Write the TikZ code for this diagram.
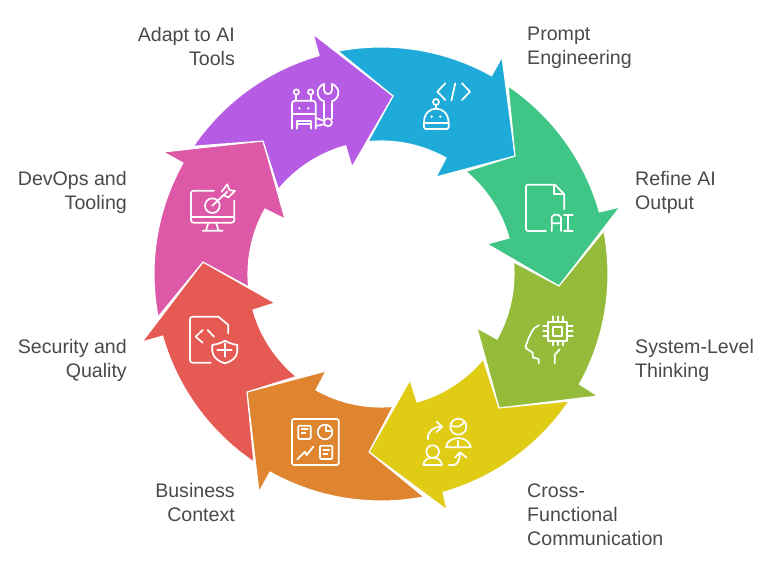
\documentclass[tikz,border=0pt]{standalone}
\usepackage{fontspec}
\setmainfont{Liberation Sans}
\definecolor{cblue}{HTML}{1FABD9}
\definecolor{cpurple}{HTML}{B65CE4}
\definecolor{cpink}{HTML}{DD58A7}
\definecolor{cred}{HTML}{E65A54}
\definecolor{corange}{HTML}{DF842F}
\definecolor{cyellow}{HTML}{E0CC15}
\definecolor{colive}{HTML}{94BC3A}
\definecolor{cgreen}{HTML}{3FC585}
\definecolor{ctext}{HTML}{4A4A4A}
\tikzset{
  seg/.style={draw=white,line width=1.1pt,line join=miter,miter limit=10},
  ico/.style={draw=white,line width=1.7pt,line cap=round,line join=round},
  lab/.style={inner sep=0pt,text=ctext,font=\fontsize{19.6}{24}\selectfont},
  labl/.style={lab,anchor=west,align=left},
  labr/.style={lab,anchor=east,align=right}
}
\def\getang(#1,#2)#3{\pgfmathsetmacro#3{atan2(#2-274,#1-381)}}
% colour, outer start, outer notch, barb, tip, barb, inner notch, inner start, previous tip
\newcommand\spoke[9]{%
  \getang#2\aA \getang#3\aB \getang#8\aC \getang#7\aD
  \pgfmathsetmacro\aB{\aB<\aA?\aB+360:\aB}%
  \pgfmathsetmacro\aD{\aD<\aC?\aD+360:\aD}%
  \path[seg,fill=#1] plot[smooth,domain=\aA:\aB,samples=40] ({381+227*cos(\x)},{274+227*sin(\x)})
    -- #4 -- #5 -- #6
    -- plot[smooth,domain=\aD:\aC,samples=40] ({381+133*cos(\x)},{274+133*sin(\x)})
    -- #9 -- cycle;
}
\begin{document}
\begin{tikzpicture}[x=1pt,y=-1pt]
\useasboundingbox (0,0) rectangle (769,569);
\fill[white] (0,0) rectangle (769,569);
\spoke{cblue}{(338,51)}{(492,75)}{(502,57)}{(515,156)}{(436,177)}{(446,158)}{(368,141)}{(393,96)}
\spoke{cgreen}{(508,86)}{(599,212)}{(620,207)}{(559,286)}{(487,244)}{(509,238)}{(466,171)}{(515,156)}
\spoke{colive}{(603,231)}{(579,384)}{(598,396)}{(499,408)}{(477,328)}{(497,339)}{(513,262)}{(559,286)}
\spoke{cyellow}{(569,401)}{(443,492)}{(447,510)}{(369,452)}{(410,380)}{(417,402)}{(483,359)}{(499,408)}
\spoke{corange}{(424,497)}{(270,472)}{(259,492)}{(247,392)}{(326,371)}{(316,390)}{(393,407)}{(369,452)}
\spoke{cred}{(254,462)}{(163,336)}{(142,342)}{(203,262)}{(275,303)}{(253,310)}{(296,377)}{(247,392)}
\spoke{cpink}{(158,317)}{(183,163)}{(163,152)}{(263,141)}{(285,219)}{(265,209)}{(248,287)}{(203,262)}
\spoke{cpurple}{(193,146)}{(319,55)}{(313,34)}{(393,96)}{(352,167)}{(346,147)}{(278,189)}{(263,141)}

% blue icon
\begin{scope}[shift={(260,30)},scale=1/3]
\draw[ico] (556,160)--(532,185)--(556,210);
\draw[ico] (586,160)--(574,212);
\draw[ico] (606,160)--(630,185)--(606,210);
\draw[ico] (528,216) circle[radius=9];
\draw[ico] (528,225)--(528,236);
\draw[ico] (492,282) .. controls (492,250) and (510,236) .. (528,236) .. controls (548,236) and (566,250) .. (566,282) [rounded corners=1.5pt]-- (566,297) -- (492,297) -- cycle;
\draw[ico] (492,280)--(566,280);
\fill[white] (515,260) circle[radius=4] (541,260) circle[radius=4];
% purple icon
\draw[ico] (109,186) circle[radius=8] (152,186) circle[radius=8];
\draw[ico] (109,194)--(109,212) (152,194)--(152,212);
\draw[ico,rounded corners=3pt] (96,296)--(96,212)--(167,212)--(167,296);
\fill[white] (118,235) circle[radius=4] (145,235) circle[radius=4];
\draw[ico] (96,253)--(167,253);
\draw[ico] (112,296)--(112,272)--(152,272)--(152,296) (112,282)--(152,282);
\draw[ico] (192,162)--(192,180) .. controls (192,196) and (216,196) .. (216,180) -- (216,162);
\draw[ico] (192,162) .. controls (165,172) and (168,206) .. (192,214) (216,162) .. controls (243,172) and (240,206) .. (216,214);
\draw[ico] (192,214)--(192,266) (216,214)--(216,266);
\draw[ico] (204,277) circle[radius=12];
\draw[ico] (167,264)--(192,272) (167,288)--(192,283);
\end{scope}

% green and olive icons
\begin{scope}[shift={(460,160)},scale=1/3]
\draw[ico,rounded corners=2pt] (258,213)--(198,213)--(198,74)--(285,74);
\draw[ico] (285,74)--(313,103)--(313,148);
\draw[ico] (283,76)--(283,103)--(311,103);
\draw[ico] (275,213)--(275,172)--(283,164)--(295,164)--(303,172)--(303,213) (275,190)--(303,190);
\draw[ico] (312,164)--(338,164) (325,164)--(325,213) (312,213)--(338,213);
% olive
\draw[ico] (265,485) rectangle (322,542);
\draw[ico] (280,500) rectangle (307,527);
\draw[ico] (279,469)--(279,485) (293,469)--(293,485) (308,469)--(308,485);
\draw[ico] (279,542)--(279,556) (293,542)--(293,556) (308,542)--(308,556);
\draw[ico] (250,499)--(265,499) (250,513)--(265,513) (250,528)--(265,528);
\draw[ico] (322,499)--(338,499) (322,513)--(338,513) (322,528)--(338,528);
\draw[ico] (237,496) .. controls (218,500) and (210,525) .. (198,555) -- (198,565) -- (218,578) -- (218,592) -- (236,597) -- (236,610);
\draw[ico] (284,610)--(284,585)--(299,568);
\end{scope}

% yellow and orange icons
\begin{scope}[shift={(240,370)},scale=1/3]
\draw[ico] (564,208) .. controls (562,184) and (580,170) .. (604,170);
\draw[ico] (590,155)--(606,170)--(590,186);
\draw[ico] (655,170) circle[radius=24];
\draw[ico] (633,166) .. controls (650,176) and (668,168) .. (674,153);
\draw[ico] (618,232) .. controls (622,195) and (688,195) .. (692,232) -- cycle;
\draw[ico] (655,212)--(655,232);
\draw[ico] (578,245) circle[radius=19];
\draw[ico] (550,285) .. controls (552,255) and (604,255) .. (606,285) -- cycle;
\draw[ico] (626,285) -- (640,285) .. controls (652,285) and (660,270) .. (660,250);
\draw[ico] (645,263)--(660,247)--(680,263);
% orange
\draw[ico,rounded corners=1.5pt] (156,147) rectangle (296,285);
\draw[ico,rounded corners=1pt] (175,167) rectangle (212,207);
\draw[ico] (185,178)--(203,178) (185,190)--(196,190);
\draw[ico] (255,186) circle[radius=22];
\draw[ico] (258,170)--(258,183)--(274,183);
\draw[ico] (172,268)--(195,245)--(200,255)--(220,230);
\draw[ico,rounded corners=1pt] (240,227) rectangle (277,267);
\draw[ico] (250,240)--(268,240) (250,252)--(262,252);
\end{scope}

% pink and red icons
\begin{scope}[shift={(140,140)},scale=1/3]
\draw[ico,rounded corners=2.5pt] (222,152)--(153,152)--(153,248)--(283,248)--(283,182);
\draw[ico] (153,230)--(283,230);
\draw[ico] (205,248)--(198,272) (228,248)--(236,272) (188,272)--(248,272);
\draw[ico] (217,197) circle[radius=22];
\draw[ico] (217,197)--(262,155);
\draw[ico] (245,155)--(262,133)--(268,150)--(285,153)--(265,172)--(250,165);
% red
\draw[ico,rounded corners=2.5pt] (212,668)--(150,668)--(150,530)--(235,530);
\draw[ico] (235,530)--(265,555)--(265,580);
\draw[ico] (188,570)--(167,590)--(188,608);
\draw[ico] (203,570)--(222,590);
\draw[ico] (217,615) .. controls (235,612) and (245,608) .. (255,602) .. controls (265,608) and (275,612) .. (292,615) -- (292,635) .. controls (290,655) and (272,665) .. (255,670) .. controls (238,665) and (220,655) .. (217,635) -- cycle;
\draw[ico] (232,630)--(275,630) (254,610)--(254,650);
\end{scope}

% labels
\node[labl] (prompt) at (527,48) {Prompt\\Engineering};
\node[labl] (refine) at (635,192) {Refine AI\\Output};
\node[labl] (system) at (635,360) {System-Level\\Thinking};
\node[labl] (cross) at (527,515) {Cross-\\Functional\\Communication};
\node[labr] (business) at (235,502) {Business\\Context};
\node[labr] (security) at (127,360) {Security and\\Quality};
\node[labr] (devops) at (127,192) {DevOps and\\Tooling};
\node[labr] (adapt) at (235,46) {Adapt to AI\\Tools};
\end{tikzpicture}
\end{document}
